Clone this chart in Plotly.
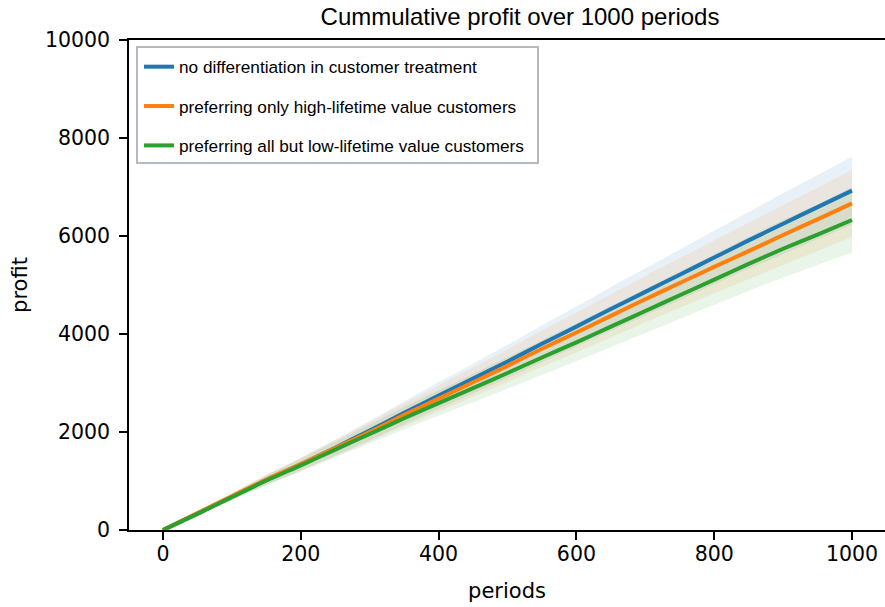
import plotly.graph_objects as go

periods = [0, 50, 100, 150, 200, 250, 300, 350, 400, 450, 500,
           550, 600, 650, 700, 750, 800, 850, 900, 950, 1000]

names = ["no differentiation in customer treatment",
         "preferring only high-lifetime value customers",
         "preferring all but low-lifetime value customers"]

blue_mean = [0, 335, 680, 1020, 1340, 1680, 2030, 2390, 2745, 3090, 3440,
             3800, 4150, 4510, 4860, 5210, 5560, 5910, 6250, 6590, 6925]
blue_upper = [0, 365, 745, 1120, 1470, 1845, 2230, 2625, 3015, 3395, 3780,
              4175, 4560, 4955, 5340, 5725, 6105, 6490, 6870, 7245, 7618]
blue_lower = [0, 305, 615, 920, 1210, 1515, 1830, 2155, 2475, 2785, 3100,
              3425, 3740, 4065, 4380, 4695, 5015, 5330, 5630, 5935, 6232]

orange_mean = [0, 345, 690, 1030, 1345, 1670, 2000, 2350, 2680, 3015, 3350,
               3700, 4030, 4370, 4710, 5040, 5370, 5690, 6020, 6340, 6667]
orange_upper = [0, 375, 755, 1130, 1475, 1835, 2200, 2585, 2945, 3315, 3685,
                4070, 4435, 4810, 5185, 5550, 5910, 6265, 6630, 6985, 7347]
orange_lower = [0, 315, 625, 930, 1215, 1505, 1800, 2115, 2415, 2715, 3015,
                3330, 3625, 3930, 4235, 4530, 4830, 5115, 5410, 5695, 5980]

green_mean = [0, 330, 670, 1010, 1320, 1640, 1960, 2280, 2590, 2895, 3205,
              3520, 3830, 4150, 4470, 4790, 5110, 5430, 5740, 6030, 6327]
green_upper = [0, 360, 735, 1110, 1450, 1800, 2155, 2510, 2850, 3185, 3525,
               3875, 4215, 4570, 4920, 5275, 5625, 5980, 6325, 6650, 6994]
green_lower = [0, 300, 605, 910, 1190, 1480, 1765, 2050, 2330, 2605, 2885,
               3165, 3445, 3730, 4020, 4305, 4595, 4880, 5155, 5410, 5660]

x_ticks = [0, 200, 400, 600, 800, 1000]
y_ticks = [0, 2000, 4000, 6000, 8000, 10000]
y_tick_text = ["0", "2000", "4000", "6000", "8000", "10000"]

series = [
    (names[0], blue_mean, blue_upper, blue_lower, "#1f77b4", "rgba(31,119,180,0.1)"),
    (names[1], orange_mean, orange_upper, orange_lower, "#ff7f0e", "rgba(255,127,14,0.1)"),
    (names[2], green_mean, green_upper, green_lower, "#2ca02c", "rgba(44,160,44,0.1)"),
]

fig = go.Figure()
for name, mean, up, lo, col, fillcol in series:
    fig.add_trace(go.Scatter(x=periods, y=up, mode="lines",
                             line=dict(width=0, shape="spline", smoothing=0.6),
                             showlegend=False, hoverinfo="skip"))
    fig.add_trace(go.Scatter(x=periods, y=lo, mode="lines",
                             line=dict(width=0, shape="spline", smoothing=0.6),
                             fill="tonexty", fillcolor=fillcol,
                             showlegend=False, hoverinfo="skip"))
for i, (name, mean, up, lo, col, fillcol) in enumerate(series):
    fig.add_trace(go.Scatter(x=periods, y=mean, mode="lines", name=name,
                             legendgroup=f"g{i}",
                             line=dict(color=col, width=4, shape="spline", smoothing=0.6)))

W, H = 885, 607
L, R, T, B = 129, 0, 40, 77
PW, PH = W - L - R, H - T - B

# legend frame (pixel box 137..538 x 47..163 converted to plot-area fractions)
fig.add_shape(type="rect", xref="paper", yref="paper",
              x0=(137 - L) / PW, x1=(538 - L) / PW,
              y0=(H - B - 163) / PH, y1=(H - B - 47) / PH,
              line=dict(color="#b4b8bf", width=2), fillcolor="white", layer="above")

fig.update_layout(
    width=W, height=H,
    margin=dict(l=L, r=R, t=T, b=B, autoexpand=False),
    plot_bgcolor="white", paper_bgcolor="white",
    title=dict(text="Cummulative profit over 1000 periods",
               font=dict(family="Liberation Sans, Arial", size=24, color="black"),
               xref="container", x=520 / W, xanchor="center",
               yref="container", y=1 - 17 / H, yanchor="middle"),
    legend=dict(x=(139 - L) / PW, y=(H - B - 49) / PH,
                xanchor="left", yanchor="top",
                borderwidth=0, bgcolor="rgba(0,0,0,0)",
                font=dict(family="Liberation Sans, Arial", size=17.2, color="black"),
                tracegroupgap=14, itemwidth=30),
    xaxis=dict(range=[-49.35, 1047.9], tickvals=x_ticks, automargin=False,
               showgrid=False, zeroline=False,
               showline=True, linecolor="black", linewidth=1.5, mirror=True,
               ticks="outside", ticklen=8, tickwidth=1.5, tickcolor="black",
               ticklabelstandoff=-3,
               tickfont=dict(family="DejaVu Sans", size=20.5, color="black"),
               title=dict(text="periods", standoff=18,
                          font=dict(family="DejaVu Sans", size=21, color="black"))),
    yaxis=dict(range=[0, 10000], tickvals=y_ticks, ticktext=y_tick_text,
               automargin=False,
               showgrid=False, zeroline=False,
               showline=True, linecolor="black", linewidth=1.5,
               ticks="outside", ticklen=8, tickwidth=1.5, tickcolor="black",
               ticklabelstandoff=5,
               tickfont=dict(family="DejaVu Sans", size=20.5, color="black"),
               title=dict(text="profit", standoff=12,
                          font=dict(family="DejaVu Sans", size=21, color="black"))),
)

fig.write_html("out.html", config={"displayModeBar": False},
               post_script="document.body.style.margin='0';")
